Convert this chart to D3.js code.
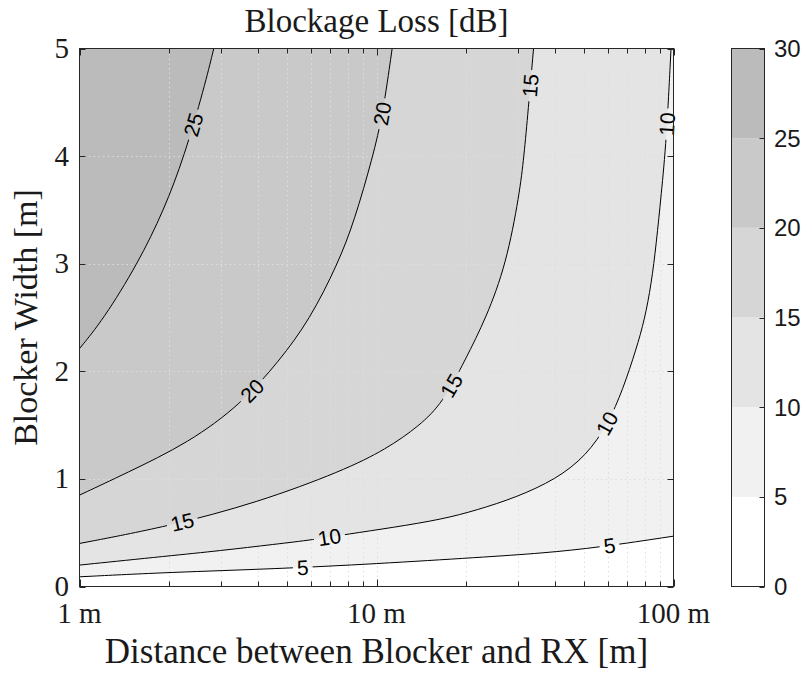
<!DOCTYPE html>
<html>
<head>
<meta charset="utf-8">
<script src="https://cdn.jsdelivr.net/npm/d3@7"></script>
<style>
  html, body { margin: 0; padding: 0; background: #ffffff; }
  svg { display: block; }
</style>
</head>
<body>
<svg id="chart" width="806" height="673"></svg>
<script>
// Iso-loss lines, each point is [distance between blocker and RX (m), blocker width (m)]
const contour5 = [[1,0.090],[2.007,0.132],[4.59,0.164],[9.97,0.211],[22.35,0.271],[36.35,0.310],[56.4,0.364],[100,0.468]];
const contour10 = [[1,0.199],[2.007,0.285],[2.96,0.332],[4.59,0.394],[6.10,0.434],[8.01,0.487],[11.35,0.548],[16.73,0.626],[21.66,0.708],[29.5,0.827],[40.3,0.998],[50.8,1.214],[60.2,1.509],[67.6,1.834],[74.9,2.206],[79.9,2.478],[84.2,2.812],[87.5,3.184],[90.95,3.648],[94.6,4.134],[98.1,5]];
const contour15 = [[1,0.400],[1.982,0.557],[3.98,0.780],[7.70,1.075],[10.78,1.276],[13.95,1.493],[16.73,1.709],[19.89,2.106],[23.41,2.496],[27.35,2.998],[30.30,3.648],[31.36,3.995],[32.42,4.429],[33.79,5]];
const contour20 = [[1,0.849],[1.434,1.052],[2.34,1.338],[3.50,1.695],[4.71,2.097],[5.95,2.478],[7.41,2.998],[8.43,3.400],[9.72,3.995],[10.51,4.391],[11.29,5]];
const contour25 = [[1,2.211],[1.200,2.478],[1.571,3.0],[1.926,3.5],[2.254,4.0],[2.633,4.64],[2.832,5]];

const levels = [5, 10, 15, 20, 25];
const contourLines = [contour5, contour10, contour15, contour20, contour25];

// Fill shades for 0-5, 5-10, 10-15, 15-20, 20-25, 25-30 dB
const bandColors = ["#ffffff", "#f1f1f1", "#e4e4e4", "#d6d6d6", "#c9c9c9", "#bbbbbb"];
const colorbarTicks = [0, 5, 10, 15, 20, 25, 30];

// In-line contour labels: level and anchor position [distance, width]
const labelLevel = [25, 20, 20, 15, 15, 15, 10, 10, 10, 5, 5];
const labelDistance = [2.47, 10.51, 3.88, 33.6, 18.31, 2.227, 95.3, 60.2, 6.94, 5.65, 60.9];
const labelWidth = [4.283, 4.391, 1.802, 4.654, 1.849, 0.580, 4.299, 1.509, 0.455, 0.162, 0.362];

const distanceMajor = [1, 10, 100];
const distanceMajorLabels = ["1 m", "10 m", "100 m"];
const widthTicks = [0, 1, 2, 3, 4, 5];

const titleText = "Blockage Loss [dB]";
const xLabelText = "Distance between Blocker and RX [m]";
const yLabelText = "Blocker Width [m]";

// ---- layout ----
const plot = { left: 79.5, right: 673.5, top: 48.5, bottom: 586.5 };
const cbar = { left: 731.5, right: 764.5, top: 48.5, bottom: 586.5 };
const axisColor = "#262626";
const serif = "'Liberation Serif', 'DejaVu Serif', serif";
const sans = "'Liberation Sans', Arial, sans-serif";

const x = d3.scaleLog().domain([1, 100]).range([plot.left, plot.right]);
const y = d3.scaleLinear().domain([0, 5]).range([plot.bottom, plot.top]);

const svg = d3.select("#chart");
const defs = svg.append("defs");

defs.append("clipPath").attr("id", "plotClip")
  .append("rect")
  .attr("x", plot.left).attr("y", plot.top)
  .attr("width", plot.right - plot.left).attr("height", plot.bottom - plot.top);

const lineGen = d3.line()
  .x(d => x(d[0]))
  .y(d => y(d[1]))
  .curve(d3.curveBasis);

// region above each iso-line (towards short distance / wide blocker)
function regionPath(pts) {
  let p = lineGen(pts);
  const last = pts[pts.length - 1];
  if (last[1] < 5) p += `L${x(100)},${y(5)}`;
  p += `L${x(1)},${y(5)}Z`;
  return p;
}

const plotG = svg.append("g").attr("clip-path", "url(#plotClip)");

// base band (0-5 dB)
plotG.append("rect")
  .attr("x", plot.left).attr("y", plot.top)
  .attr("width", plot.right - plot.left).attr("height", plot.bottom - plot.top)
  .attr("fill", bandColors[0]);

plotG.selectAll("path.band")
  .data(contourLines)
  .join("path")
  .attr("class", "band")
  .attr("d", d => regionPath(d))
  .attr("fill", (d, i) => bandColors[i + 1])
  .attr("stroke", "none");

// dotted grid
const gridG = plotG.append("g")
  .attr("stroke", "#dedede")
  .attr("stroke-width", 1)
  .attr("stroke-dasharray", "1.5,3.2");
const xGrid = x.ticks().filter(v => v > 1 && v < 100);
gridG.selectAll("line.vx").data(xGrid).join("line")
  .attr("x1", d => Math.round(x(d)) + 0.5).attr("x2", d => Math.round(x(d)) + 0.5)
  .attr("y1", plot.bottom).attr("y2", plot.top);
gridG.selectAll("line.hy").data(widthTicks.filter(v => v > 0 && v < 5)).join("line")
  .attr("y1", d => Math.round(y(d)) + 0.5).attr("y2", d => Math.round(y(d)) + 0.5)
  .attr("x1", plot.left).attr("x2", plot.right);

// contour lines (broken where the labels sit)
const mask = defs.append("mask").attr("id", "labelMask")
  .attr("maskUnits", "userSpaceOnUse")
  .attr("x", 0).attr("y", 0).attr("width", 806).attr("height", 673);
mask.append("rect").attr("x", 0).attr("y", 0).attr("width", 806).attr("height", 673).attr("fill", "white");

const lineG = plotG.append("g").attr("mask", "url(#labelMask)");
const paths = lineG.selectAll("path.iso")
  .data(contourLines)
  .join("path")
  .attr("class", "iso")
  .attr("d", d => lineGen(d))
  .attr("fill", "none")
  .attr("stroke", "#000000")
  .attr("stroke-width", 1);

const labelG = svg.append("g");
labelLevel.forEach((lev, i) => {
  const node = paths.nodes()[levels.indexOf(lev)];
  const total = node.getTotalLength();
  const px = x(labelDistance[i]), py = y(labelWidth[i]);
  let best = 0, bestD = Infinity;
  for (let s = 0; s <= total; s += 0.5) {
    const p = node.getPointAtLength(s);
    const dd = (p.x - px) ** 2 + (p.y - py) ** 2;
    if (dd < bestD) { bestD = dd; best = s; }
  }
  const c = node.getPointAtLength(best);
  const a = node.getPointAtLength(Math.max(0, best - 4));
  const b = node.getPointAtLength(Math.min(total, best + 4));
  let ang = Math.atan2(b.y - a.y, b.x - a.x) * 180 / Math.PI;
  if (ang > 90) ang -= 180;
  if (ang <= -90) ang += 180;
  if (Math.abs(ang) > 89.5) ang = -90;

  const t = labelG.append("text")
    .attr("transform", `translate(${c.x},${c.y}) rotate(${ang})`)
    .attr("text-anchor", "middle")
    .attr("dy", "0.36em")
    .attr("font-family", sans)
    .attr("font-size", 21)
    .attr("fill", "#000000")
    .text(lev);
  const w = t.node().getComputedTextLength();
  mask.append("rect")
    .attr("x", -w / 2 - 4).attr("y", -9)
    .attr("width", w + 8).attr("height", 18)
    .attr("transform", `translate(${c.x},${c.y}) rotate(${ang})`)
    .attr("fill", "black");
});

// axes box and inward ticks
const axG = svg.append("g").attr("stroke", axisColor).attr("stroke-width", 1).attr("fill", "none");
axG.append("rect")
  .attr("x", plot.left).attr("y", plot.top)
  .attr("width", plot.right - plot.left).attr("height", plot.bottom - plot.top);

const xAll = x.ticks();
xAll.forEach(v => {
  const len = distanceMajor.includes(v) ? 7 : 5;
  const xx = Math.round(x(v)) + 0.5;
  axG.append("line").attr("x1", xx).attr("x2", xx).attr("y1", plot.bottom).attr("y2", plot.bottom - len);
  axG.append("line").attr("x1", xx).attr("x2", xx).attr("y1", plot.top).attr("y2", plot.top + len);
});
widthTicks.forEach(v => {
  const yy = Math.round(y(v)) + 0.5;
  axG.append("line").attr("x1", plot.left).attr("x2", plot.left + 6).attr("y1", yy).attr("y2", yy);
  axG.append("line").attr("x1", plot.right).attr("x2", plot.right - 6).attr("y1", yy).attr("y2", yy);
});

// tick labels
const textG = svg.append("g").attr("fill", "#1a1a1a").attr("font-family", serif);
textG.selectAll("text.xt").data(distanceMajor).join("text")
  .attr("x", d => x(d)).attr("y", 623)
  .attr("text-anchor", "middle")
  .attr("font-size", 29)
  .text((d, i) => distanceMajorLabels[i]);
textG.selectAll("text.yt").data(widthTicks).join("text")
  .attr("x", 69).attr("y", d => y(d))
  .attr("dy", "0.33em")
  .attr("text-anchor", "end")
  .attr("font-size", 29)
  .text(d => d);

// titles
textG.append("text")
  .attr("x", (plot.left + plot.right) / 2).attr("y", 32)
  .attr("text-anchor", "middle").attr("font-size", 33)
  .text(titleText);
textG.append("text")
  .attr("x", (plot.left + plot.right) / 2).attr("y", 663)
  .attr("text-anchor", "middle").attr("font-size", 35)
  .text(xLabelText);
textG.append("text")
  .attr("transform", `translate(36.5,${(plot.top + plot.bottom) / 2}) rotate(-90)`)
  .attr("text-anchor", "middle").attr("font-size", 34)
  .text(yLabelText);

// colorbar
const cy = d3.scaleLinear().domain([0, 30]).range([cbar.bottom, cbar.top]);
const cbG = svg.append("g");
cbG.selectAll("rect.seg").data(bandColors).join("rect")
  .attr("x", cbar.left).attr("width", cbar.right - cbar.left)
  .attr("y", (d, i) => cy(colorbarTicks[i + 1]))
  .attr("height", (d, i) => cy(colorbarTicks[i]) - cy(colorbarTicks[i + 1]))
  .attr("fill", d => d);
cbG.append("rect")
  .attr("x", cbar.left).attr("y", cbar.top)
  .attr("width", cbar.right - cbar.left).attr("height", cbar.bottom - cbar.top)
  .attr("fill", "none").attr("stroke", axisColor).attr("stroke-width", 1);
cbG.selectAll("line.ct").data(colorbarTicks).join("line")
  .attr("x1", cbar.right).attr("x2", cbar.right - 5)
  .attr("y1", d => Math.round(cy(d)) + 0.5).attr("y2", d => Math.round(cy(d)) + 0.5)
  .attr("stroke", axisColor).attr("stroke-width", 1);
cbG.selectAll("text.cl").data(colorbarTicks).join("text")
  .attr("x", 774).attr("y", d => cy(d))
  .attr("dy", "0.36em")
  .attr("font-family", sans).attr("font-size", 24)
  .attr("fill", "#1a1a1a")
  .text(d => d);
</script>
</body>
</html>
